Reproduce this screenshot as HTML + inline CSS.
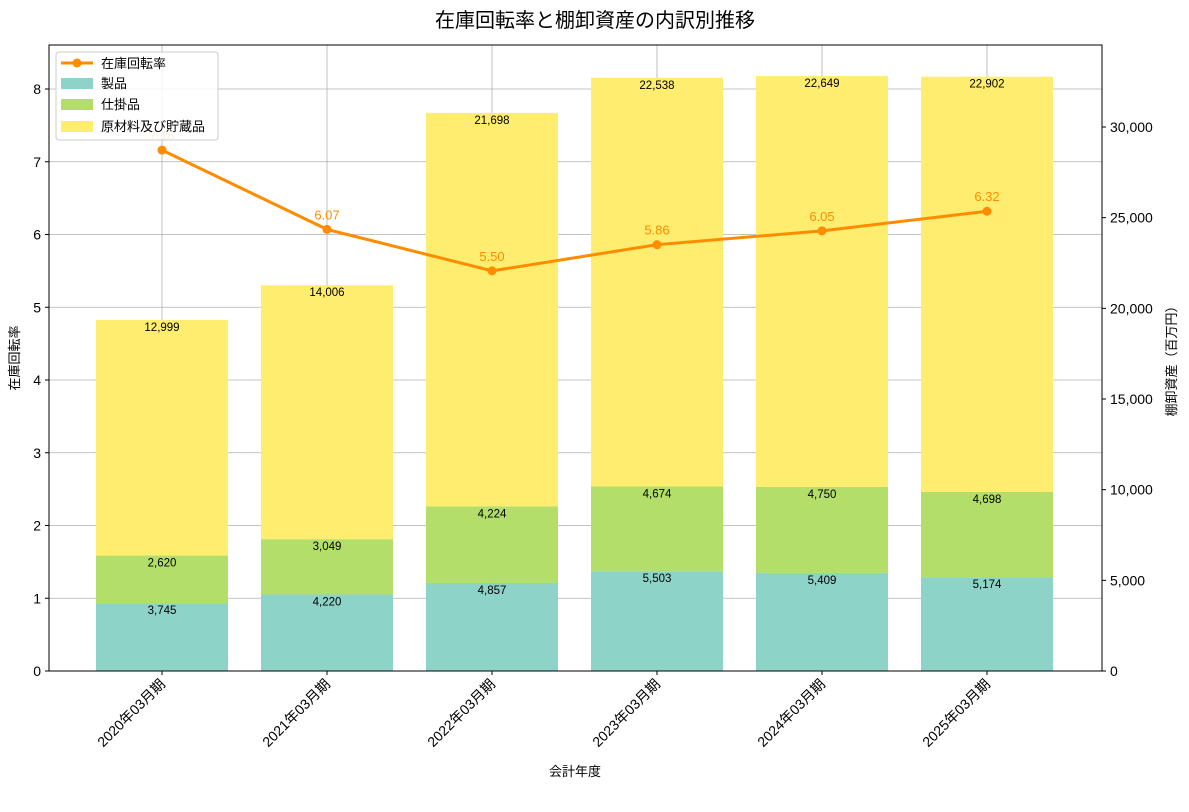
<!DOCTYPE html>
<html><head><meta charset="utf-8"><style>
body{margin:0;background:#fff}
text{font-family:"Liberation Sans","Noto Sans CJK JP",sans-serif}
</style></head><body>
<svg id="c" width="1189" height="789" xmlns="http://www.w3.org/2000/svg"></svg>
<script>
const categories=["2020年03月期","2021年03月期","2022年03月期","2023年03月期","2024年03月期","2025年03月期"];
const products=[3745,4220,4857,5503,5409,5174];
const wip=[2620,3049,4224,4674,4750,4698];
const materials=[12999,14006,21698,22538,22649,22902];
const turnover=[7.16,6.07,5.50,5.86,6.05,6.32];
const leftTicks=[0,1,2,3,4,5,6,7,8];
const rightTicks=[0,5000,10000,15000,20000,25000,30000];

const svg=document.getElementById('c');const NS="http://www.w3.org/2000/svg";
const L=49,R=1102,T=45,B=671;
const xs=i=>162+i*165;
const yl=v=>B-v*72.75;
const yr=v=>B-v*0.018133;
const bw=132;
function el(t,a,p){const e=document.createElementNS(NS,t);for(const k in a)e.setAttribute(k,a[k]);(p||svg).appendChild(e);return e;}
function tx(s,a){const e=el('text',a);e.textContent=s;return e;}

let g=el('g',{});


leftTicks.forEach(v=>el('line',{x1:L,x2:R,y1:yl(v),y2:yl(v),stroke:'#b0b0b0','stroke-width':0.8},g));
categories.forEach((c,i)=>el('line',{x1:xs(i),x2:xs(i),y1:T,y2:B,stroke:'#b0b0b0','stroke-width':0.8},g));

const fmt=v=>v.toLocaleString('en-US');
categories.forEach((c,i)=>{
  let base=0;
  [[products,'#8dd3c7','products'],[wip,'#b3de69','wip'],[materials,'#ffed6f','materials']].forEach(([arr,col,nm])=>{
    const v=arr[i];const y0=yr(base),y1=yr(base+v);
    const r=el('rect',{x:xs(i)-bw/2,y:y1,width:bw,height:y0-y1,fill:col});
    
    
    const t=tx(fmt(v),{x:xs(i),y:y1+11,'text-anchor':'middle','font-size':11.5,fill:'#000'});
    
    
    base+=v;
  });
});
// line
const pts=turnover.map((v,i)=>xs(i)+','+yl(v)).join(' ');
const pl=el('polyline',{points:pts,fill:'none',stroke:'#ff8c00','stroke-width':3});


turnover.forEach((v,i)=>{
  const c=el('circle',{cx:xs(i),cy:yl(v),r:4.5,fill:'#ff8c00'});
  
  
  const t=tx(v.toFixed(2),{x:xs(i),y:yl(v)-10,'text-anchor':'middle','font-size':13,fill:'#ff8c00'});
  
  
});
// axes frame
el('rect',{x:L,y:T,width:R-L,height:B-T,fill:'none',stroke:'#000','stroke-width':1});
leftTicks.forEach(v=>{el('line',{x1:L-4,x2:L,y1:yl(v),y2:yl(v),stroke:'#000'});
  const t=tx(String(v),{x:L-8,y:yl(v)+5,'text-anchor':'end','font-size':14});
  
  });
rightTicks.forEach(v=>{el('line',{x1:R,x2:R+4,y1:yr(v),y2:yr(v),stroke:'#000'});
  const t=tx(fmt(v),{x:R+8,y:yr(v)+5,'font-size':14});
  
  });
categories.forEach((c,i)=>{el('line',{x1:xs(i),x2:xs(i),y1:B,y2:B+4,stroke:'#000'});
  const t=tx(c,{x:xs(i)+4,y:B+14,'text-anchor':'end','font-size':14,transform:`rotate(-45 ${xs(i)+4} ${B+14})`});
  
  });
</script>
<svg width="0" height="0"></svg>
<div style="position:absolute;left:0;top:0;width:1189px;height:789px;pointer-events:none">
<svg width="1189" height="789" xmlns="http://www.w3.org/2000/svg">
<text x="595" y="27" text-anchor="middle" font-size="20">在庫回転率と棚卸資産の内訳別推移</text>
<text x="575" y="776" text-anchor="middle" font-size="13">会計年度</text>
<text x="19" y="358" text-anchor="middle" font-size="13" transform="rotate(-90 19 358)">在庫回転率</text>
<text x="1176" y="358" text-anchor="middle" font-size="13" transform="rotate(-90 1176 358)">棚卸資産（百万円）</text>
<g>
<rect x="56" y="52" width="162" height="88" rx="3" fill="#fff" fill-opacity="0.85" stroke="#ccc"/>
<line x1="61" x2="93" y1="63" y2="63" stroke="#ff8c00" stroke-width="3"/><circle cx="77" cy="63" r="4.5" fill="#ff8c00"/>
<text x="101" y="68" font-size="13">在庫回転率</text>
<rect x="61" y="78" width="32" height="11" fill="#8dd3c7"/><text x="101" y="88" font-size="13">製品</text>
<rect x="61" y="99" width="32" height="11" fill="#b3de69"/><text x="101" y="109" font-size="13">仕掛品</text>
<rect x="61" y="121" width="32" height="11" fill="#ffed6f"/><text x="101" y="131" font-size="13">原材料及び貯蔵品</text>
</g>
</svg></div>
</body></html>
